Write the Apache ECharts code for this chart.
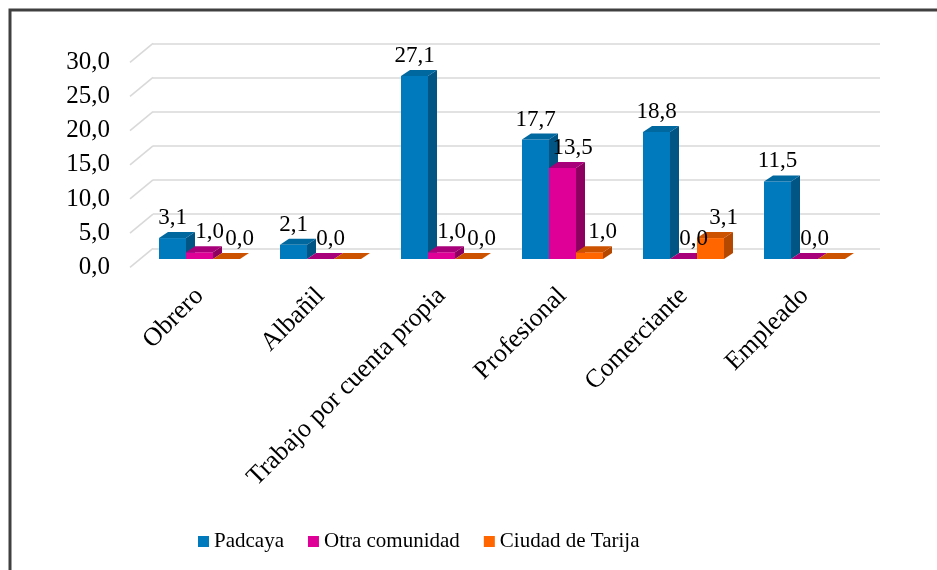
<!DOCTYPE html>
<html>
<head>
<meta charset="utf-8">
<script src="https://cdn.jsdelivr.net/npm/echarts@6/dist/echarts.min.js"></script>
<style>html,body{margin:0;padding:0;background:#fff}#c{width:937px;height:570px}</style>
</head>
<body>
<div id="c"></div>
<script>
const categories = ['Obrero', 'Albañil', 'Trabajo por cuenta propia', 'Profesional', 'Comerciante', 'Empleado'];
const seriesNames = ['Padcaya', 'Otra comunidad', 'Ciudad de Tarija'];
const padcaya = [3.1, 2.1, 27.1, 17.7, 18.8, 11.5];
const otraComunidad = [1.0, 0.0, 1.0, 13.5, 0.0, 0.0];
const ciudadTarija = [0.0, 0.0, 0.0, 1.0, 3.1, 0.0];
// which data labels are shown in the picture (1 = shown)
const padcayaLabels = [1, 1, 1, 1, 1, 1];
const otraLabels = [1, 1, 1, 1, 1, 1];
const tarijaLabels = [1, 0, 1, 1, 1, 0];
const yTicks = [0, 5, 10, 15, 20, 25, 30];

const FONT = "Liberation Serif";
const palettes = [
  {front: '#0079BD', top: '#00679F', side: '#005585', labelDx: 0},
  {front: '#DF0097', top: '#A8007A', side: '#8E005F', labelDx: 10},
  {front: '#FF6600', top: '#CC5200', side: '#B54800', labelDx: 13}
];
const seriesValues = [padcaya, otraComunidad, ciudadTarija];
const seriesLabels = [padcayaLabels, otraLabels, tarijaLabels];
const DX = 9, DY = 6, BAR_RATIO = 27 / 121;
const fmt = v => v.toFixed(1).replace('.', ',');

const chart = echarts.init(document.getElementById('c'), null, {renderer: 'canvas'});

function barRenderer(sIdx) {
  const pal = palettes[sIdx];
  return function (params, api) {
    const cat = api.value(0), val = api.value(1), show = api.value(2);
    const bandW = api.size([1, 0])[0];
    const bw = bandW * BAR_RATIO;
    const base = api.coord([cat, 0]);
    const top = api.coord([cat, val]);
    const x0 = base[0] - 1.5 * bw + sIdx * bw;
    const yb = base[1], yt = top[1];
    const children = [];
    if (yb - yt > 0.01) {
      children.push({type: 'rect', z2: sIdx, shape: {x: x0, y: yt, width: bw, height: yb - yt}, style: {fill: pal.front}});
      children.push({type: 'polygon', z2: sIdx, shape: {points: [[x0 + bw, yt], [x0 + bw + DX, yt - DY], [x0 + bw + DX, yb - DY], [x0 + bw, yb]]}, style: {fill: pal.side}});
    }
    children.push({type: 'polygon', z2: sIdx, shape: {points: [[x0, yt], [x0 + DX, yt - DY], [x0 + bw + DX, yt - DY], [x0 + bw, yt]]}, style: {fill: pal.top}});
    if (show) {
      children.push({type: 'text', z2: 100, style: {text: fmt(val), x: x0 + bw / 2 + pal.labelDx, y: yt - DY - 14,
        align: 'center', verticalAlign: 'middle', fontFamily: FONT, fontSize: 23, fill: '#000'}});
    }
    return {type: 'group', children: children};
  };
}

const barSeries = seriesValues.map((vals, s) => ({
  name: seriesNames[s],
  type: 'custom',
  xAxisIndex: 2, yAxisIndex: 2,
  itemStyle: {color: palettes[s].front},
  renderItem: barRenderer(s),
  encode: {x: 0, y: 1},
  data: vals.map((v, i) => [i, v, seriesLabels[s][i]]),
  silent: true,
  z: 10
}));

const option = {
  animation: false,
  backgroundColor: '#fff',
  textStyle: {fontFamily: FONT},
  graphic: [{type: 'rect', shape: {x: 10, y: 10, width: 1200, height: 1200}, style: {fill: 'none', stroke: '#404040', lineWidth: 3}, z: 100}],
  legend: {
    data: seriesNames,
    left: 193, top: 526, icon: 'rect', itemWidth: 11, itemHeight: 11, itemGap: 24,
    textStyle: {fontFamily: FONT, fontSize: 21, color: '#000'}
  },
  grid: [
    {left: 153, right: 57, top: 43.3, height: 205},
    {left: 130, right: 57, top: 62.3, height: 205},
    {left: 139, right: 72, top: 56.5, height: 202.5}
  ],
  xAxis: [
    {type: 'value', gridIndex: 0, min: 0, max: 1, show: false},
    {type: 'value', gridIndex: 1, min: 0, max: 1, show: false},
    {type: 'category', gridIndex: 2, data: categories, boundaryGap: true,
      axisLine: {show: false}, axisTick: {show: false},
      axisLabel: {rotate: 45, margin: 33, interval: 0, fontFamily: FONT, fontSize: 26, color: '#000'}}
  ],
  yAxis: [
    {type: 'value', gridIndex: 0, min: 0, max: 30, interval: 5, axisLabel: {show: false}, axisLine: {show: false}, axisTick: {show: false},
      splitLine: {lineStyle: {color: '#d9d9d9', width: 1.6}}},
    {type: 'value', gridIndex: 1, min: 0, max: 30, interval: 5, axisLine: {show: false}, axisTick: {show: false}, splitLine: {show: false},
      axisLabel: {margin: 20, fontFamily: FONT, fontSize: 25, color: '#000', formatter: v => fmt(v)}},
    {type: 'value', gridIndex: 2, min: 0, max: 30, show: false}
  ],
  series: [
    {
      type: 'custom', xAxisIndex: 0, yAxisIndex: 0, silent: true, z: 1,
      data: yTicks.map(t => [0, t]),
      encode: {x: 0, y: 1},
      renderItem: function (params, api) {
        const p = api.coord([0, api.value(1)]);
        return {type: 'line', shape: {x1: p[0] - 23, y1: p[1] + 19, x2: p[0], y2: p[1]}, style: {stroke: '#d9d9d9', lineWidth: 1.6}};
      }
    }
  ].concat(barSeries)
};
chart.setOption(option);
</script>
</body>
</html>
